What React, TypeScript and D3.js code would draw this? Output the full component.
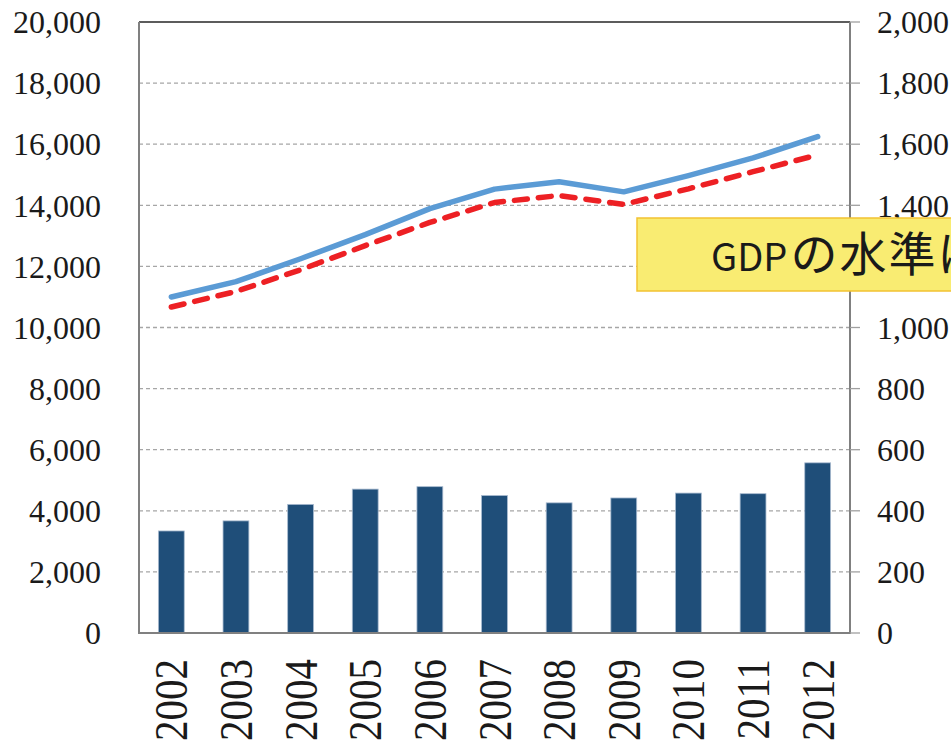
import React from 'react';
import * as d3 from 'd3';

const years = ['2002', '2003', '2004', '2005', '2006', '2007', '2008', '2009', '2010', '2011', '2012'];
// bars, read against the right axis
const barValues = [334, 367, 421, 471, 479, 450, 426, 442, 458, 456, 557];
// lines, read against the left axis
const blueValues = [11000, 11500, 12250, 13040, 13890, 14530, 14770, 14440, 14970, 15550, 16250];
const redValues = [10670, 11180, 11890, 12680, 13440, 14090, 14320, 14030, 14540, 15100, 15650];
const leftTicks = [0, 2000, 4000, 6000, 8000, 10000, 12000, 14000, 16000, 18000, 20000];
const rightTicks = [0, 200, 400, 600, 800, 1000, 1200, 1400, 1600, 1800, 2000];
const noteLatin = 'GDP';
const noteKana = 'の水準は';

const W = 951;
const H = 744;
const plot = { left: 139, right: 850, top: 22, bottom: 633 };

const serif = 'Liberation Serif, Times New Roman, Times, DejaVu Serif, serif';
const jp = 'Noto Sans CJK JP, Noto Sans, sans-serif';

export default function App() {
  const x = d3
    .scaleBand<string>()
    .domain(years)
    .range([plot.left, plot.right])
    .paddingInner(0.6)
    .paddingOuter(0.3);
  const yLeft = d3.scaleLinear().domain([0, 20000]).range([plot.bottom, plot.top]);
  const yRight = d3.scaleLinear().domain([0, 2000]).range([plot.bottom, plot.top]);
  const cx = (d: string) => (x(d) ?? 0) + x.bandwidth() / 2;

  const line = d3
    .line<number>()
    .x((_, i) => cx(years[i]))
    .y(d => yLeft(d));

  const fmt = d3.format(',');

  return (
    <svg width={W} height={H} style={{ position: 'absolute', left: 0, top: 0, background: '#fff' }}>
      {/* grid */}
      {leftTicks.slice(1, -1).map(t => (
        <line
          key={'g' + t}
          x1={plot.left}
          x2={plot.right}
          y1={yLeft(t)}
          y2={yLeft(t)}
          stroke="#a6a6a6"
          strokeWidth={1.3}
          strokeDasharray="4 3"
        />
      ))}

      {/* bars */}
      {barValues.map((v, i) => (
        <rect
          key={years[i]}
          x={x(years[i])}
          y={yRight(v)}
          width={x.bandwidth()}
          height={plot.bottom - yRight(v)}
          fill="#1f4e79"
          stroke="#a9bbd0"
          strokeWidth={0.8}
        />
      ))}

      {/* frame */}
      <line x1={plot.left} x2={plot.right} y1={plot.top} y2={plot.top} stroke="#262626" strokeWidth={1.5} />
      <line x1={plot.left} x2={plot.left} y1={plot.top} y2={plot.bottom + 1} stroke="#808080" strokeWidth={2} />
      <line x1={plot.left} x2={plot.right} y1={plot.bottom} y2={plot.bottom} stroke="#808080" strokeWidth={2} />
      <line x1={plot.right} x2={plot.right} y1={plot.top} y2={plot.bottom + 1} stroke="#808080" strokeWidth={2} />
      {rightTicks.map(t => (
        <line key={'rt' + t} x1={plot.right} x2={plot.right + 10} y1={yRight(t)} y2={yRight(t)} stroke="#a0a0a0" strokeWidth={1.3} />
      ))}

      {/* lines */}
      <path d={line(blueValues) ?? ''} fill="none" stroke="#5b9bd5" strokeWidth={5.5} strokeLinecap="round" strokeLinejoin="round" />
      <path
        d={line(redValues) ?? ''}
        fill="none"
        stroke="#ed2024"
        strokeWidth={5.5}
        strokeLinecap="round"
        strokeLinejoin="round"
        strokeDasharray="13 11"
      />

      {/* left axis labels */}
      {leftTicks.map(t => (
        <text key={'l' + t} x={101} y={yLeft(t)} dy="0.35em" textAnchor="end" style={{ fontFamily: serif, fontSize: 32 }} fill="#1a1a1a">
          {fmt(t)}
        </text>
      ))}

      {/* right axis labels (1,200 sits behind the note, as in the original) */}
      {rightTicks.map(t => (
        <text key={'r' + t} x={877} y={yRight(t)} dy="0.35em" textAnchor="start" style={{ fontFamily: serif, fontSize: 32 }} fill="#1a1a1a">
          {fmt(t)}
        </text>
      ))}

      {/* year labels */}
      {years.map(yr => (
        <text
          key={'x' + yr}
          transform={`translate(${cx(yr)},659) rotate(-90) scale(1,1.15)`}
          dy="0.34em"
          textAnchor="end"
          style={{ fontFamily: serif, fontSize: 41 }}
          fill="#1a1a1a"
        >
          {yr}
        </text>
      ))}

      {/* annotation box */}
      <rect x={637} y={218} width={340} height={73} fill="#f9ec72" stroke="#f2c232" strokeWidth={1.5} />
      <text x={711} y={271} style={{ fontFamily: jp, fontSize: 38 }} fill="#1a1a1a">
        {noteLatin}
        <tspan dx={3} style={{ fontSize: 47, letterSpacing: 2 }}>
          {noteKana}
        </tspan>
      </text>
    </svg>
  );
}
